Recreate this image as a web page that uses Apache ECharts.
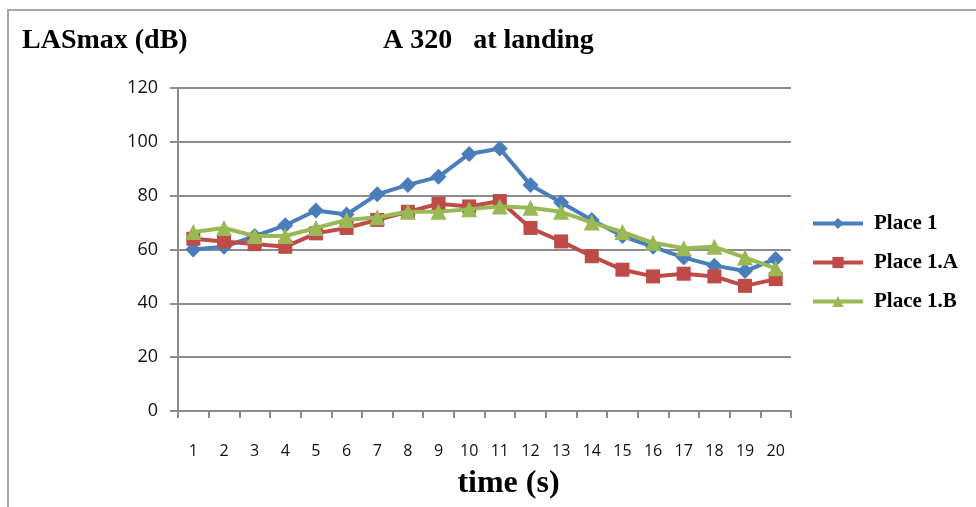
<!DOCTYPE html>
<html><head><meta charset="utf-8">
<script src="https://cdn.jsdelivr.net/npm/echarts@6/dist/echarts.min.js"></script>
<style>html,body{margin:0;padding:0;background:#fff}#c{width:976px;height:507px}</style>
</head><body><div id="c"></div>
<script>
const categories = ['1','2','3','4','5','6','7','8','9','10','11','12','13','14','15','16','17','18','19','20'];
const place1  = [60, 61, 65, 69, 74.5, 73, 80.5, 84, 87, 95.5, 97.5, 84, 77.5, 71, 65, 61, 57, 54, 52, 56.5];
const place1A = [64, 63, 62, 61, 66, 68, 71, 74, 77, 76, 78, 68, 63, 57.5, 52.5, 50, 51, 50, 46.5, 49];
const place1B = [66.5, 68, 65, 65, 68, 71, 72, 74, 74, 75, 76, 75.5, 74, 70, 66.5, 62.5, 60.5, 61, 57, 53];
const yTicks = [0, 20, 40, 60, 80, 100, 120];

const chart = echarts.init(document.getElementById('c'), null, {renderer: 'canvas'});
const serif = '"Liberation Serif","DejaVu Serif",serif';
const sans = '"Open Sans","Liberation Sans",sans-serif';
chart.setOption({
  animation: false,
  backgroundColor: '#ffffff',
  graphic: [
    {type: 'rect', shape: {x: 8, y: 10, width: 1000, height: 600}, style: {fill: 'none', stroke: '#a6a6a6', lineWidth: 2}, z: -1},
    {type: 'text', left: 22, top: 27, style: {text: 'LASmax (dB)', font: 'bold 28px ' + serif, fill: '#000'}},
    {type: 'text', left: 383, top: 27, style: {text: 'A 320   at landing', font: 'bold 28px ' + serif, fill: '#000'}}
  ],
  legend: {
    orient: 'vertical', left: 806, top: 208, itemGap: 18,
    itemWidth: 50, itemHeight: 14,
    lineStyle: {width: 4},
    textStyle: {fontFamily: serif, fontWeight: 'bold', fontSize: 21, color: '#000', padding: [0,0,0,6]},
    data: ['Place 1', 'Place 1.A', 'Place 1.B']
  },
  grid: {left: 178, right: 185, top: 88, bottom: 96, containLabel: false, outerBoundsMode: 'none'},
  xAxis: {
    type: 'category', data: categories, boundaryGap: true,
    name: 'time (s)', nameLocation: 'middle', nameGap: 57,
    nameTextStyle: {fontFamily: serif, fontWeight: 'bold', fontSize: 32, color: '#000', padding: [0,0,0,48]},
    axisLine: {lineStyle: {color: '#8c8c8c', width: 2}},
    axisTick: {show: true, length: 7, alignWithLabel: false, lineStyle: {color: '#8c8c8c', width: 2}},
    axisLabel: {margin: 32, fontSize: 16, color: '#111', fontFamily: sans, interval: 0}
  },
  yAxis: {
    type: 'value', min: 0, max: 120, interval: 20,
    axisLine: {show: true, lineStyle: {color: '#8c8c8c', width: 2}},
    axisTick: {show: true, length: 8, lineStyle: {color: '#8c8c8c', width: 2}},
    axisLabel: {margin: 20, fontSize: 18, color: '#111', fontFamily: sans,
      formatter: v => yTicks.includes(v) ? String(v) : ''},
    splitLine: {lineStyle: {color: '#8c8c8c', width: 2}}
  },
  series: [
    {name: 'Place 1', type: 'line', data: place1, symbol: 'diamond', symbolSize: 16,
     itemStyle: {color: '#4a7ebb'}, lineStyle: {width: 4, color: '#4a7ebb'}, z: 3},
    {name: 'Place 1.A', type: 'line', data: place1A, symbol: 'rect', symbolSize: 14,
     itemStyle: {color: '#be4b48'}, lineStyle: {width: 4, color: '#be4b48'}, z: 4},
    {name: 'Place 1.B', type: 'line', data: place1B, symbol: 'triangle', symbolSize: 16,
     itemStyle: {color: '#98b954'}, lineStyle: {width: 4, color: '#98b954'}, z: 5}
  ]
});
</script></body></html>
